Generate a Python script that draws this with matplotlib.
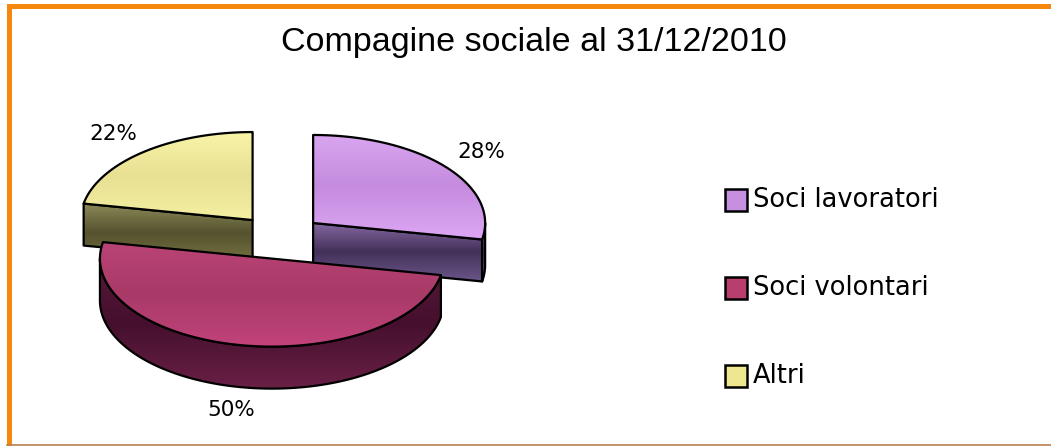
import numpy as np
import matplotlib
matplotlib.use('Agg')
import matplotlib.pyplot as plt
from matplotlib.patches import Polygon, Rectangle
from matplotlib.colors import LinearSegmentedColormap

# data
title = 'Compagine sociale al 31/12/2010'
categories = ['Soci lavoratori', 'Soci volontari', 'Altri']
values = [28, 50, 22]
labels = ['28%', '50%', '22%']

# styles: top face gradient, side gradient, legend swatch
top_cols = [['#D9A5F0', '#C58BDD', '#DCA7F4'],
            ['#BA4475', '#A83A68', '#C2437A'],
            ['#F8F4A8', '#E8E092', '#F4EFA2']]
side_cols = [['#8668A2', '#433159', '#6A5588'],
             ['#58183A', '#45102D', '#6A2046'],
             ['#8C8A58', '#55522F', '#74723F']]
swatch = ['#C78FE0', '#B83E6E', '#EEE78F']

# pie geometry (pixels)
cx, cy = 280, 237
a, b, h = 172, 88, 42
explode = 0.25

fig = plt.figure(figsize=(10.51, 4.46), dpi=100)
ax = fig.add_axes([0, 0, 1, 1])


def ell(x0, y0, t):
    t = np.deg2rad(t)
    return x0 + a*np.cos(t), y0 - b*np.sin(t)


def grad_fill(verts, cols, z):
    verts = np.asarray(verts)
    poly = Polygon(verts, closed=True, facecolor='none', edgecolor='black', lw=1.6,
                   joinstyle='round', zorder=z+0.5)
    ax.add_patch(poly)
    cm = LinearSegmentedColormap.from_list('g', cols)
    y0, y1 = verts[:, 1].min(), verts[:, 1].max()
    x0, x1 = verts[:, 0].min(), verts[:, 0].max()
    g = np.linspace(0, 1, 200).reshape(-1, 1)
    im = ax.imshow(g, cmap=cm, extent=(x0, x1, y1, y0), origin='upper', aspect='auto', zorder=z)
    im.set_clip_path(poly)


# angles: start at 90, clockwise
ends = 90 - np.cumsum(values)/np.sum(values)*360
starts = np.concatenate(([90], ends[:-1]))
order = [2, 0, 1]  # back slices first
for k, i in enumerate(order):
    t0, t1 = ends[i], starts[i]   # ccw from t0 to t1
    mid = (t0 + t1)/2
    ox = cx + a*explode*np.cos(np.deg2rad(mid))
    oy = cy - b*explode*np.sin(np.deg2rad(mid))
    z = 2 + k*3
    # radial side faces
    for t, vis in ((t0, np.cos(np.deg2rad(t0)) > 0.05), (t1, np.cos(np.deg2rad(t1)) < -0.05)):
        if vis:
            ex, ey = ell(ox, oy, t)
            grad_fill([(ox, oy), (ex, ey), (ex, ey+h), (ox, oy+h)], side_cols[i], z)
    # outer wall
    for s in (-360, 0, 360):
        lo, hi = max(t0, 180+s), min(t1, 360+s)
        if hi > lo:
            tt = np.linspace(lo, hi, 120)
            xs, ys = ell(ox, oy, tt)
            v = np.vstack([np.column_stack([xs, ys]), np.column_stack([xs[::-1], ys[::-1]+h])])
            grad_fill(v, side_cols[i], z+1)
    # top face
    tt = np.linspace(t0, t1, 200)
    xs, ys = ell(ox, oy, tt)
    v = np.vstack([[(ox, oy)], np.column_stack([xs, ys])])
    grad_fill(v, top_cols[i], z+2)
    # percent label
    lx = ox + a*1.27*np.cos(np.deg2rad(mid))
    ly = oy - b*1.27*np.sin(np.deg2rad(mid)) + (h if np.sin(np.deg2rad(mid)) < 0 else 0)
    ax.text(lx, ly, labels[i], ha='center', va='center', fontsize=15.5,
            family='DejaVu Sans', zorder=20)

# legend
for i, name in enumerate(categories):
    yc = 200 + i*88
    ax.add_patch(Rectangle((725, yc-11), 22, 22, facecolor=swatch[i], edgecolor='black', lw=1.8, zorder=20))
    ax.text(753, yc, name, ha='left', va='center', fontsize=18.5, family='DejaVu Sans', zorder=20)

ax.text(534, 43, title, ha='center', va='center', fontsize=24.5, family='Liberation Sans')

# frame
ax.add_patch(Rectangle((7, 4), 1044, 5, facecolor='#F5870C', edgecolor='none', zorder=30))
ax.add_patch(Rectangle((7, 4), 5, 442, facecolor='#F5870C', edgecolor='none', zorder=30))
ax.plot([7, 1051], [445, 445], color='#B98250', lw=1.2, zorder=30)

ax.set_xlim(0, 1051)
ax.set_ylim(446, 0)
ax.axis('off')
fig.savefig('out.png', dpi=100)
